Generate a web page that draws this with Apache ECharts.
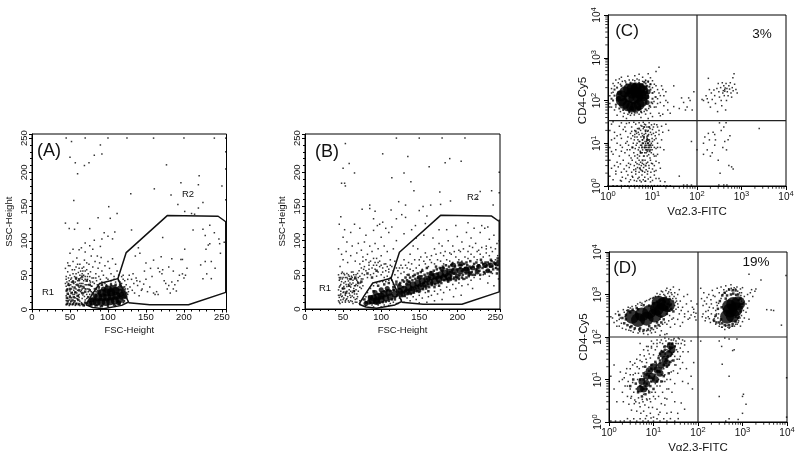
<!DOCTYPE html>
<html><head><meta charset="utf-8"><style>html,body{margin:0;padding:0;background:#fff}#c{width:800px;height:459px}</style>
<script src="https://cdn.jsdelivr.net/npm/echarts@6/dist/echarts.min.js"></script></head><body><div id="c"></div>
<script>
const logMinorTicks=[2,3,4,5,6,7,8,9,20,30,40,50,60,70,80,90,200,300,400,500,600,700,800,900,2000,3000,4000,5000,6000,7000,8000,9000];
const gateR1=[[71,7],[78,20],[89,38],[103,42],[113,45],[120,28],[127,11],[118,6],[94,1],[80,3],[71,7]];
const gateR2=[[113,45],[124,83],[178,137],[245,136],[255,128],[255,25],[206,7],[155,7],[127,10]];
const aDots=[[52,245],[50,222],[57,214],[60,198],[69,210],[75,214],[82,225],[90,240],[92,227],[177,211],[220,195],[196,185],[219,182],[250,180],[161,176],[130,169],[183,167],[192,153],[225,156],[101,150],[55,159],[219,148],[210,140],[201,143],[214,139],[112,140],[87,134],[103,133],[44,126],[49,118],[56,117],[60,126],[76,118],[109,113],[95,112],[131,116],[172,105],[100,107],[92,103],[82,101],[70,97],[76,93],[65,90],[50,82],[54,88],[62,87],[70,84],[80,88],[90,92],[106,103],[225,117],[234,123],[240,112],[212,116],[228,108],[246,103],[253,98],[247,96],[234,96],[229,88],[232,94],[248,82],[201,88],[196,73],[198,73],[184,74],[170,77],[160,72],[140,90],[142,82],[136,78],[150,68],[166,60],[172,58],[186,56],[204,60],[222,65],[228,70],[236,70],[241,60],[230,52],[225,45],[236,45],
[128,50],[131,44],[134,38],[137,46],[139,35],[142,41],[145,30],[147,37],[150,44],[152,26],[155,33],[158,48],[160,24],[162,22],[164,26],[166,22],[168,55],[171,52],[174,42],[176,38],[178,30],[180,35],[182,24],[184,40],[186,30],[188,36],[190,27],[192,42],[194,50],[198,52],[200,46],[202,50],[120,50],[122,42],[124,36],[126,30],[129,33],[132,28],[135,24],[138,42],[141,20],[144,28],[118,48],[116,40],[148,56],[156,60],[180,62],[133,52],[126,44],
[44,60],[45,48],[46,40],[47,55],[48,64],[49,35],[50,50],[51,44],[52,30],[53,58],[54,70],[55,38],[56,48],[57,25],[58,62],[59,75],[60,42],[61,54],[62,32],[63,66],[64,46],[65,28],[66,60],[67,38],[68,50],[69,72],[70,44],[71,30],[72,58],[73,48],[74,36],[75,66],[76,42],[77,55],[78,78],[79,34],[80,62],[81,46],[82,38],[83,70],[84,52],[85,42],[86,78],[87,60],[88,48],[89,68],[90,44],[91,76],[92,56],[94,50],[96,64],[98,46],[100,70],[102,60],[104,52],[106,74],[108,48],[110,66],[112,56],[114,50],[62,60],[64,56],[66,52],[68,62],[70,56],[72,68],[60,66],[58,52],[56,58],[54,52],[52,46],[50,64],[48,46],[46,30],[44,38],[47,68],[65,38],[70,36],[75,30],[78,26],[82,30],[68,24],[72,22],[62,22],[58,36],[54,22],[66,44],[74,52],[80,40],[86,36],[92,40],[96,38],[100,44],[104,42],[108,44],[60,28],[76,22],[70,14],[66,16],[63,12],[59,16],
[126,22],[124,16],[122,33],[127,26],[118,38],[110,40],[104,38],[98,36],[88,34],[84,26],[74,12],[76,6],[83,5],[90,4],[100,4],[110,6],[120,10],[255,250],[255,230],[255,205],[255,160],[255,118],[255,85],[255,60],[255,40],[45,250],[70,250],[100,250],[125,250],[160,250],[200,250],[240,250],
[45,7],[47,9],[49,6],[51,11],[53,7],[55,10],[57,6],[59,9],[61,7],[63,6],[65,10],[67,7],[69,6],[45,13],[47,16],[49,14],[52,17],[54,14],[57,17],[60,15],[62,18],[45,20],[48,22],[50,20],[53,25],[56,22],[59,24],[61,20],[45,27],[47,30],[50,27],[53,33],[55,28],[58,30],[61,34],[45,34],[48,38],[51,36],[54,42],[57,40],[63,38],[67,34],[45,44],[49,42],[52,40],[58,44],[63,50],[67,56],[70,48],[73,44],[76,48],[68,42],[72,36],[78,34],[66,30],[70,30],[74,26],[69,19],[72,16],[64,26],[67,21],[73,30],[77,40],[79,46],[84,46],[62,42],[120,44],[114,42],[117,34],[122,26],[123,30]];
const aFill=[[46,8],[50,8],[54,8],[58,8],[62,8],[66,8],[47,12],[52,13],[56,12],[61,14],[46,17],[50,18],[55,18],[60,20],[47,23],[52,24],[57,25],[46,28],[50,30],[56,32],[62,28],[66,24],[70,26],[48,36],[54,40],[60,36],[64,34],[68,32],[62,44],[66,48],[58,46],[72,42],[76,36],[70,10],[68,6],[74,18],[76,28],[80,24],[84,30],[88,32],[92,36],[98,34],[104,36],[110,36],[116,36],[120,32],[124,24],[124,18],[121,12],[115,8],[108,7],[100,6],[92,5],[85,6],[78,7],[72,9]];
const aMid=[[76,9],[79,14],[83,20],[88,26],[94,30],[115,31],[120,27],[122,20],[114,10]];
const aCores=[[80,12],[85,11],[91,11],[97,11],[103,12],[109,13],[115,15],[119,20],[87,18],[93,18],[99,18],[105,19],[111,20],[116,24],[92,24],[98,25],[104,25],[110,27],[100,29],[107,30]];
const bDots=[[53,242],[58,213],[50,206],[65,199],[48,184],[52,184],[53,180],[102,227],[135,223],[163,208],[184,214],[190,220],[205,216],[130,199],[114,192],[139,186],[143,173],[177,171],[230,172],[245,173],[226,161],[191,158],[247,152],[123,157],[113,145],[132,152],[155,150],[165,152],[178,153],[85,152],[85,147],[92,143],[75,146],[47,135],[45,124],[65,124],[98,124],[90,132],[95,122],[102,127],[106,118],[114,120],[120,132],[127,138],[132,134],[150,144],[160,136],[158,125],[145,122],[140,116],[130,110],[120,100],[110,112],[100,105],[90,115],[80,108],[72,118],[60,112],[52,116],[50,105],[44,88],[48,80],[55,98],[62,92],[70,96],[74,86],[78,98],[85,92],[88,84],[92,96],[96,88],[100,78],[104,92],[108,84],[112,72],[116,88],[82,80],[76,76],[68,82],[60,78],[56,68],[50,72],[46,62],[54,84],[66,70],[72,66],[78,62],[84,68],[90,74],[94,64],[98,70],[102,60],[106,66],[110,58],[114,62],[118,70],[122,56],[126,64],[130,72],[134,60],[138,80],[142,92],[148,88],[152,76],[158,82],[164,72],[170,88],[176,96],[182,78],[188,100],[194,92],[200,106],[206,98],[212,112],[218,104],[224,96],[230,112],[236,118],[242,102],[248,108],[252,96],[238,92],[228,86],[216,92],[204,84],[192,80],[180,92],[168,104],[156,108],[146,104],[176,116],[186,116],[198,122],[214,126],[222,118],[232,122],[240,120],
[44,50],[45,42],[46,34],[47,26],[48,18],[44,12],[46,8],[49,54],[50,46],[51,38],[52,30],[53,22],[54,14],[55,52],[56,44],[57,36],[58,28],[59,20],[60,12],[61,54],[62,46],[63,38],[64,30],[65,22],[66,14],[67,50],[68,42],[69,34],[70,26],[71,56],[72,48],[73,38],[74,30],[75,52],[76,44],[77,58],[78,50],[80,56],[82,46],[84,58],[86,50],[88,60],[90,52],[92,58],[94,48],[96,54],[98,62],[100,50],[102,54],[104,46],[106,56],[108,48],[110,54],[112,46],[44,28],[46,20],[48,40],[50,24],[52,50],[54,36],[56,18],[58,48],[60,32],[62,24],[64,50],[66,34],[68,22],[70,46],[72,32],[74,44],[76,34],[46,44],[48,52],[44,20],[50,14],[53,10],[57,12],[63,8],[68,10],[118,50],[122,46],[126,52],[130,54],[134,50],[138,58],[142,56],[146,60],[150,64],[154,58],[158,66],[162,62],[166,68],[170,66],[174,72],[178,70],[182,66],[186,72],[190,70],[194,68],[198,76],[202,72],[206,70],[210,76],[214,74],[218,80],[222,76],[226,72],[230,80],[234,76],[238,82],[242,78],[246,84],[250,72],[253,78],[253,64],[250,60],[246,52],[242,48],[238,56],[234,50],[230,44],[226,54],[222,46],[218,42],[214,36],[210,44],[206,34],[202,38],[198,30],[194,36],[190,28],[186,32],[182,24],[178,28],[174,22],[170,26],[166,20],[162,18],[158,24],[154,16],[150,20],[146,14],[142,18],[138,12],[134,16],[130,10],[126,14],[122,8],[240,38],[248,34],[254,44],[220,30],[205,20],[195,18],[180,14],[170,12],[160,10],[150,9],[120,18],[116,10],[110,5],[100,3],[90,3],[80,5],[72,8],[255,200],[255,170],[255,130],[255,100],[120,250],[150,250],[180,250],[210,250],
[45,10],[47,13],[49,10],[51,16],[53,12],[55,15],[58,10],[60,17],[62,11],[64,17],[66,10],[68,15],[45,17],[47,22],[49,19],[51,25],[53,20],[55,26],[58,23],[60,26],[62,19],[65,26],[67,28],[69,18],[45,32],[47,36],[49,30],[51,33],[53,40],[55,33],[57,41],[59,38],[61,36],[63,42],[65,34],[67,36],[69,40],[45,46],[47,46],[49,44],[51,52],[53,46],[55,46],[57,50],[59,44],[61,48],[63,54],[65,44],[67,44],[69,52],[74,60],[76,70],[80,72],[84,64],[86,70],[90,64],[92,68],[94,74],[96,68],[100,64],[104,66],[108,62],[112,64],[116,56],[120,60],[124,60],[128,60],[132,64],[136,68],[140,66],[144,72],[150,72],[156,70],[160,76],[166,78],[172,80],[178,82],[184,84],[190,82],[196,84],[202,86],[208,88],[214,84],[220,90],[226,84],[232,90],[238,88],[244,90],[250,88],[72,12],[76,14],[80,18],[82,24],[86,30],[90,34],[94,38],[98,40],[102,40],[106,40],[110,42],[114,42],[116,36],[118,32],[120,26],[122,22],[124,16],[120,8],[112,8],[104,6],[96,6],[88,6],[80,8]];
const bFill=[[50,30],[58,34],[64,26],[70,38],[60,44],[54,24],[66,46],[74,40],[82,52],[88,46],[94,56],[120,40],[124,36],[128,42],[116,32],[132,46],[136,50],[140,32],[144,50],[148,34],[152,54],[156,38],[160,60],[166,38],[172,62],[176,40],[182,60],[186,44],[192,64],[196,46],[202,64],[206,46],[212,68],[216,52],[222,66],[226,58],[232,68],[236,62],[242,66],[246,62],[250,66],[253,70],[253,58],[244,72],[218,60],[208,58],[84,18],[78,14],[90,26],[96,34],[104,36],[110,38],
[118,17],[121,20],[124,29],[127,20],[129,32],[131,19],[133,36],[135,23],[137,40],[139,22],[141,42],[143,24],[145,44],[147,26],[149,46],[151,27],[153,48],[155,29],[157,50],[159,30],[161,52],[163,32],[165,54],[167,35],[169,56],[171,36],[173,58],[175,38],[177,60],[179,38],[181,62],[183,42],[185,64],[187,42],[189,62],[191,44],[193,66],[195,44],[197,62],[199,46],[201,68],[203,50],[205,64],[207,50],[209,66],[211,52],[213,64],[215,48],[217,70],[219,54],[221,62],[223,50],[225,68],[227,62],[229,56],[231,72],[233,60],[235,54],[237,68],[239,64],[241,56],[243,62],[245,70],[247,58],[249,66],[251,60],[253,74],
[117,28],[120,36],[122,25],[125,38],[128,24],[130,40],[132,26],[134,42],[136,27],[138,46],[140,28],[142,48],[146,30],[148,52],[150,25],[152,34],[154,56],[158,34],[160,44],[162,26],[164,46],[168,50],[170,32],[172,46],[174,52],[176,34],[178,46],[180,56],[184,48],[186,58],[188,40],[190,54],[192,48],[194,58],[196,52],[198,42],[200,58],[202,44],[204,60],[206,56],[208,44],[210,60],[212,46],[214,58],[216,62],[220,50],[224,58],[228,64],[230,50],[234,66],[236,52],[238,62],[240,68],[244,54],[248,68],[252,52],
[86,9],[90,9],[94,9],[98,9],[102,10],[106,11],[110,12],[114,14],[118,14],[88,18],[92,20],[96,22],[100,24],[104,26],[108,27],[112,26],[116,28],[80,10],[84,14]];
const bMid=[[212,58],[220,60],[228,62],[236,64],[244,64],[252,66],[216,52],[226,54],[240,56],[84,10],[80,8],[86,17],[92,24],[100,28],[108,30],[200,48],[190,44],[205,66],[195,64],[180,58],[166,52],[150,46],[136,38],[124,33]];
const bCores=[[88,12],[94,13],[100,14],[106,16],[112,18],[100,19],[118,22],[124,26],[130,29],[136,31],[142,35],[148,38],[154,41],[160,44],[166,47],[172,48],[178,50],[184,52],[190,54],[196,55],[127,22],[134,25],[140,27],[146,30],[152,33],[158,36],[164,39],[170,41],[176,44],[182,46],[188,48],[204,56],[212,57],[90,16],[96,18],[104,22],[110,24],[94,11]];
const cDots=[[1.1,85],[1.2,190],[1.3,250],[1.4,60],[1.5,300],[1.6,45],[1.1,130],[1.2,150],[1.8,320],[2,350],[2.4,290],[2.8,370],[3.2,45],[3.6,300],[4,380],[4.5,320],[5,410],[5.5,40],[6,350],[7,290],[8,420],[9,340],[10,290],[11,240],[12,480],[13,180],[14,600],[15,90],[16,220],[18,75],[20,160],[22,60],[12,120],[13,85],[14,50],[11,70],[10,42],[9,50],[2.2,42],[2.6,38],[3,52],[7,48],[8,38],[15,44],[17,48],[18,130],[20,100],[25,50],[22,90],[30,72],[40,65],[50,90],[60,70],[70,100],[45,115],[55,60],[65,115],[85,160],[78,60],[30,220],
[130,105],[140,100],[160,130],[170,110],[180,90],[190,180],[200,70],[210,150],[220,105],[240,175],[250,130],[260,85],[280,190],[290,55],[300,250],[310,160],[320,120],[340,200],[350,100],[360,75],[370,260],[380,150],[400,220],[410,130],[420,180],[440,60],[450,250],[460,100],[480,160],[500,130],[520,220],[540,185],[560,260],[580,150],[600,120],[620,200],[640,340],[650,170],[680,420],[700,240],[750,180],[800,150],[420,165],[430,195],[390,170],[470,190],[180,330],
[3,30],[1.2,28],[1.8,25],[2.4,24],[3.4,24],[4.2,28],[5,30],[5.8,25],[6.6,28],[7.5,24],[8.4,30],[9.5,27],[11,28],[13,24],[16,25],[20,28],[1.1,20],[1.4,18],[1.9,16],[2.5,19],[3.2,17],[4,20],[4.8,18],[5.4,20],[6.2,22],[7,17],[8,20],[9,18],[10,21],[12,18],[14,16],[17,18],[23,20],[1.2,12],[1.6,10],[2,13],[2.7,11],[3.3,13],[3.9,12],[4.5,14],[5.2,11],[6,15],[6.8,11],[7.6,13],[8.6,11],[9.8,13],[11,12],[13,10],[16,12],[1.1,8],[1.5,7],[2.1,8],[2.9,9],[3.6,8],[4.3,9],[5,8],[5.7,9],[6.5,8],[7.2,9],[8,8],[9,7],[10,9],[12,7.5],[15,8],[18,7],[1.3,5.5],[1.8,5],[2.4,6],[3,5.2],[3.8,6],[4.6,5.4],[5.5,6],[6.3,5],[7.2,6],[8.2,5.4],[9.4,6],[11,5],[13,5.5],[1.1,4],[1.6,3.6],[2.2,4],[2.9,3.4],[3.5,4],[4.2,3.6],[5,4],[5.9,3.4],[6.8,4],[7.8,3.6],[9,4],[10,3.3],[12,3.8],[14,3.5],[1.2,2.6],[1.7,2.8],[2.3,2.5],[3,2.7],[3.8,2.4],[4.6,2.7],[5.4,2.4],[6.3,2.7],[7.2,2.4],[8.4,2.6],[10,2.5],[12,2.3],[15,2.6],[1.1,1.7],[1.5,1.9],[2.1,1.6],[2.8,1.8],[3.5,1.7],[4.2,1.9],[5,1.6],[5.8,1.8],[6.7,1.6],[7.7,1.9],[9,1.6],[11,1.8],[14,1.5],[1,1.02],[1.3,1.02],[1.6,1.02],[2,1.02],[2.4,1.02],[2.8,1.02],[3.3,1.02],[3.9,1.02],[4.5,1.02],[5.2,1.02],[6,1.02],[7,1.02],[8,1.02],[9.5,1.02],[11,1.02],[13,1.02],[15,1.02],[18,1.02],[21,1.02],[25,1.02],[3,1.25],[4.4,1.3],[5.6,1.25],[7,1.3],[9,1.25],[2,1.3],
[5.5,14],[6,12],[6.5,16],[7,10],[7.5,14],[8,9],[8.5,12],[5,11],[4.5,10],[4,16],[3.6,15],[4.8,7],[5.3,6.5],[6,7],[6.5,5],[7,7],[7.6,6.4],[8.3,7],[4.6,4.5],[5,3.2],[5.6,3],[6,2.2],[4.2,2.2],[3.6,1.6],[75,11],[100,7],[40,1.7],[75,1.05],[60,1.05],[50,1.05],
[140,10],[150,14],[170,7],[180,17],[190,12],[200,5],[220,6],[230,18],[250,9],[260,12],[300,4],[320,30],[330,2],[350,20],[380,8],[400,24],[420,11],[460,7],[500,12],[520,3],[550,15],[600,2.8],[650,2.5],[310,1.05],[400,1.05],[470,1.05],[2500,22],[140,5.5],[250,16],[450,30],
[1.3,32],[2,30],[2.6,29],[3.8,31],[4.6,22],[5.5,26],[6.2,31],[7,27],[7.8,19],[8.8,22],[9.5,16],[10.5,24],[11.5,15],[12.5,27],[1.6,15],[2.2,21],[2.8,14],[3.4,19],[4,14],[4.4,17],[5,16],[5.8,17],[6.4,13],[7,19],[7.4,11],[8.2,16],[9.4,10],[10.5,17],[12,13],[14,20],[1.4,13],[1.9,9],[2.5,10],[3.1,7],[3.7,10],[4.1,7.5],[4.7,12],[5.4,9],[5.9,12],[6.2,10],[6.8,9],[7.3,8],[7.8,10],[8.6,9],[9.4,8],[10,11],[11,8],[13,8],[1.2,6.4],[2,6.5],[2.7,7],[3.3,4.5],[4,5],[5.1,5],[5.9,6],[6.7,6],[7.6,5],[8.8,4.5],[9.8,7],[10.5,5.5],[12,5],[1.4,3],[1.9,3.3],[2.6,3],[3.2,3.2],[3.9,3],[4.5,3.3],[5.4,3.6],[6.3,3.2],[7.3,3.4],[8.3,3],[9.5,3.4],[11,3],[1.5,2.2],[2,2.1],[2.6,2.2],[3.4,2.1],[4.2,2.5],[5,2.1],[5.8,2.3],[6.7,2.1],[7.8,2.2],[9.2,2.1],[11,2.2],[1.3,1.4],[1.9,1.35],[2.5,1.5],[3.2,1.4],[3.9,1.35],[4.7,1.5],[5.2,1.35],[6.2,1.4],[6.8,1.3],[8,1.45],[10,1.35],[12,1.5],[15,1.3],[19,1.25],
[1.5,70],[1.7,95],[1.9,55],[1.2,70],[1.3,155],[1.4,220],[1.7,260],[2.1,280],[2.3,50],[2.8,48],[3.4,50],[3.9,46],[4.5,52],[5,48],[5.7,52],[6.5,55],[7.5,58],[8.2,65],[9,70],[10,85],[10.8,95],[11.5,120],[11,160],[10,200],[9,240],[8,270],[7,300],[6,280],[5,300],[4,290],[3,300],[2.5,270],[1.9,240],[12,70],[13,110],[14,150],[15,130],[17,180],[12,220],[1.1,70]];
const cFill=[[1.3,100],[1.4,130],[1.5,80],[1.2,110],[1.4,180],[1.6,200],[2,220],[2.6,240],[3.2,260],[4,250],[5,260],[6,240],[7,250],[8.5,210],[9,180],[10,150],[10,110],[9.5,90],[8.6,75],[7,62],[5.5,55],[4,52],[3,55],[2.2,60],[1.8,65],[8,10],[8.6,6.5],[7.8,15],[8.4,24],[6.5,24],[5.2,2.6],[6,4],[7,3],[5,22],[3.5,8],[4.2,19],[9,240],[8,280],[7.5,220],[6.5,270],[8.5,8],[9,9],[7.5,7],[8,12],[6,10],[6.8,8],[5.4,6],[5.8,8],[6.4,14],[7,20],[7.5,12]];
const cMid=[[7.5,120],[8,160],[7.6,90],[1.7,110],[1.8,150],[3.4,65],[5,66],[4,220],[5.5,220],[6.8,200]];
const cCores=[[2,100],[2,130],[2.3,85],[2.4,160],[2.8,75],[2.9,185],[3.4,70],[3.5,195],[4.2,72],[4.3,195],[5,80],[5.2,190],[5.8,95],[6,170],[6.3,130],[3,120],[3.8,110],[4.6,120],[3.4,150],[4.3,155],[5.4,140]];
const dDots=[[1.1,300],[1.2,280],[1.3,220],[1.4,350],[1.5,240],[1.6,400],[1.7,180],[1.8,280],[2,160],[2.2,380],[2.5,420],[2.8,145],[3,480],[3.5,130],[4,540],[4.5,125],[5,650],[5.5,620],[6,120],[7,720],[7.5,115],[8.5,800],[9,125],[10,850],[11,130],[12,160],[13,900],[14,1000],[15,140],[16,1150],[18,950],[20,1400],[22,1150],[24,1300],[26,1000],[28,1500],[30,1100],[32,800],[35,1000],[38,1300],[25,600],[28,700],[30,550],[32,450],[35,600],[38,350],[40,700],[45,500],[48,900],[50,300],[55,600],[58,1000],[60,400],[65,280],[70,700],[75,500],[80,380],[85,300],[90,250],[20,200],[22,240],[24,170],[28,280],[30,200],[35,260],[40,180],[45,220],[50,350],[60,260],[70,330],[80,450],[90,360],[95,600],
[115,1400],[120,800],[125,300],[130,550],[135,1100],[140,700],[145,240],[150,400],[155,600],[160,850],[170,300],[175,1000],[180,500],[190,220],[195,750],[200,350],[210,1250],[220,480],[230,270],[240,900],[250,200],[260,650],[270,1400],[290,350],[300,1100],[310,200],[330,1500],[350,170],[380,1300],[400,150],[420,1600],[450,190],[500,160],[550,1700],[600,180],[650,1450],[700,200],[750,1500],[800,220],[850,300],[900,1350],[950,1100],[1000,1450],[1100,900],[1200,600],[1300,1000],[1400,700],[1500,1100],[1600,1300],[1700,900],[1900,1200],[2000,1350],[1100,280],[1200,380],[1300,480],[1400,260],[1000,230],[900,180],[2600,2200],[3500,440],[4400,430],[5000,420],[7500,190],[9500,2800],[1400,3000],[9800,11],
[115,80],[300,80],[340,60],[400,95],[500,90],[600,48],[350,23],[500,12],[750,90],[650,50],[1000,1.6],[300,4],[1000,4],[1200,2.6],[1050,4.5],[800,1.15],[9800,1.3],[1.3,22],[3,26],[5,70],[7,60],[9,80],[12,70],[15,85],[18,95],[20,60],[24,50],[28,85],[32,70],[36,95],[40,55],[45,85],[50,65],[60,45],[70,80],[80,25],[45,25],[55,18],[70,12],[75,6],[60,8],[45,9],[40,18],[38,30],[35,45],[30,35],[26,28],[32,22],[28,16],[24,10],[35,14],[22,6],[30,8],[26,5],[20,3.5],[30,3],[42,2.8],[50,2],[18,2.5],[14,1.7],[25,1.7],[35,1.6],
[1.1,12],[1.3,6],[1.5,3],[1.7,9],[1.8,15],[2,5],[2.1,3],[2.2,11],[2.3,7],[2.5,18],[2.6,4],[2.7,9],[2.8,2.6],[3,13],[3,6],[3.1,3.6],[3.2,1.9],[3.4,22],[3.4,8.5],[3.6,5],[3.7,2.7],[3.9,14],[4,3],[4.2,30],[4.2,1.8],[4.4,10],[4.6,3.7],[4.8,18],[5,2.3],[5,38],[5.2,1.6],[5.5,26],[5.8,3],[6,50],[6,1.8],[6.4,2.5],[6.8,30],[7,1.4],[7.2,3.3],[7.6,60],[7.8,2.2],[8,40],[8.5,1.6],[8.6,3],[9,55],[9.5,2.2],[10,70],[10,1.3],[11,3.5],[11,5],[12,2],[12,85],[13,4],[13,1.5],[14,7],[15,2.7],[16,5],[16,70],[18,3.6],[18,9],[20,6],[20,1.6],[1.1,1.05],[1.4,1.05],[1.8,1.05],[2.2,1.05],[2.6,1.2],[3,1.05],[3.6,1.2],[4.2,1.05],[5,1.2],[5.8,1.05],[6.6,1.2],[7.6,1.05],[8.8,1.25],[10,1.05],[12,1.2],[14,1.05],[17,1.2],[20,1.05],[24,1.2],[30,1.05],[36,1.2],[420,1.05],[500,1.2],
[1.5,180],[1.7,260],[1.9,210],[2.1,440],[2.3,300],[2.4,150],[2.7,500],[3.1,140],[3.3,520],[3.7,150],[4.4,600],[4.9,135],[5.3,560],[5.8,135],[6.5,680],[7,140],[8,750],[8.5,140],[9.5,820],[10,150],[11,900],[12,1050],[14,180],[15,1200],[16,200],[17,1000],[19,1250],[21,1050],[23,900],[25,1100],[27,800],[29,900],[31,650],[33,700],[36,500],[42,420],[14,260],[18,220],[23,320],[26,260],[20,120],[18,115],[14,110],
[220,250],[240,300],[250,420],[260,350],[270,550],[280,280],[290,620],[300,180],[320,240],[330,800],[340,170],[360,1000],[370,450],[390,1100],[420,180],[440,1200],[470,170],[490,1350],[520,170],[560,1400],[580,180],[620,1300],[660,180],[700,1350],[760,200],[780,1200],[820,240],[860,1100],[920,950],[950,700],[980,520],[1050,650],[1050,420],[950,320],[880,280],[170,420],[150,280],[130,350],[180,270],[200,600],[220,950],
[2,10],[2.4,14],[2.6,7],[3,18],[3.2,4],[3.5,13],[3.8,3.3],[3.8,24],[4.1,6],[4.3,20],[4.6,14],[4.8,2.8],[5,28],[5.2,7],[5.4,12],[5.6,3.4],[5.8,20],[6,4.5],[6.2,36],[6.5,15],[6.7,7],[7,3.5],[7,25],[7.3,10],[7.5,48],[7.8,5.5],[8,20],[8.2,3.5],[8.5,32],[8.8,9],[9,60],[9.2,5],[9.5,16],[10,38],[10,4],[10.5,12],[11,50],[11,8],[11.5,24],[12,7],[12,60],[12.5,16],[13,36],[13,10],[14,74],[14,24],[15,48],[15,13],[16,32],[16,9],[17,58],[17,18],[18,40],[18,13],[19,80],[19,24],[20,50],[20,10],[21,36],[22,90],[22,22],[23,60],[24,36],[25,85],[25,15],[26,55],[27,72],[28,44],[29,92],[30,60],[30,22],[32,80],[33,50],[34,30],[36,70],[38,90],[40,35],[42,70],[46,45],[50,80]];
const dFill=[[1.7,330],[2,280],[2.2,210],[2.4,330],[2.7,420],[2.6,190],[3.2,180],[3.4,440],[3.8,160],[4.2,480],[4.8,150],[6,145],[7.5,150],[9,160],[11,180],[13,190],[15,220],[17,800],[19,850],[21,600],[23,780],[25,460],[20,350],[17,260],[19,460],[28,400],[250,320],[260,220],[280,460],[230,240],[310,700],[350,950],[400,1100],[500,1300],[600,1250],[700,1250],[800,1000],[900,800],[1000,600],[900,400],[800,280],[700,230],[600,200],[500,190],[400,190],[300,220],[7,8],[9,11],[6,6],[5,10],[4,8],[5.5,4],[6.6,4.5],[8,5],[10,6],[12,9],[11,26],[9,22],[8,16],[7,13],[6.5,20],[13,32],[16,45],[18,60],[22,70],[26,40],[30,60],[24,26],[20,20],[28,28],[17,12],[22,14],[15,9],[4.5,5],[3.5,10],[3,7],
[8,550],[10,620],[12,680],[14,720],[16,750],[18,680],[6,560],[4.5,450],[3,380],[2.4,260],[3,170],[5,160],[8,180],[12,220],[15,300],[20,500],[24,560],[22,420],[330,260],[350,210],[340,500],[420,800],[450,950],[550,1000],[620,1050],[720,980],[820,750],[850,520],[700,300],[900,600],[11,13],[12,16],[9,9],[10,10],[14,15],[15,18],[17,22],[19,30],[21,34],[14,28],[12,22],[9,18],[8,12],[6,10],[5,7],[7,6],[8.5,7],[6,14],[22,46],[24,55],[18,50],[14,40],[26,68]];
const dMid=[[18,30],[15,22],[12,17],[22,40],[9,12],[7,8],[6,6],[14,14],[10,20],[20,24],[26,50],[8,16],[5.5,9],[24,62],[16,40],[11,10],[7,12],[5,6]];
const dCores=[[3.3,300],[4.5,250],[5.5,340],[7,270],[8,390],[10.5,320],[12,470],[15,420],[17,600],[13,640],[21,560],[450,300],[600,320],[520,420],[700,450],[620,600],[800,620],[500,520]];
const panels=[{dots:aDots,fill:aFill,mid:aMid,cores:aCores,core:8,fs:2.5},{dots:bDots,fill:bFill,mid:bMid,cores:bCores,core:7,fs:2.5},{dots:cDots,fill:cFill,mid:cMid,cores:cCores,core:11,fs:2},{dots:dDots,fill:dFill,mid:dMid,cores:dCores,core:14,fs:2.5}];
const grids=[{left:32,top:134,width:194.5,height:175.5},{left:305,top:134,width:195,height:175},{left:608,top:15,width:178,height:171},{left:609,top:252,width:178,height:170}];
const lin={color:'#111',fontSize:9.5,fontFamily:'Liberation Sans'};
function logFmt(v){return '{b|10}{s|'+Math.round(Math.log10(v))+'}';}
const rich={b:{fontSize:10,fontFamily:'Liberation Sans',color:'#111'},s:{fontSize:7.5,fontFamily:'Liberation Sans',color:'#111',padding:[0,0,6,0]}};
const xAxis=[],yAxis=[];
const lineC={lineStyle:{color:'#000',width:1}};
grids.forEach((g,i)=>{
 const linear=i<2;
 const nm=linear?{fontSize:9.5,color:'#111',fontFamily:'Liberation Sans'}:{fontSize:11.5,color:'#111',fontFamily:'Liberation Sans'};
 const common=(name,isY)=>linear?{type:'value',min:0,max:256,interval:50,name,nameLocation:'middle',nameGap:isY?18:16,nameTextStyle:nm,
   axisLine:{show:true,...lineC},axisTick:{show:true,length:3,...lineC},minorTick:{show:true,splitNumber:5,length:2,...lineC},splitLine:{show:false},minorSplitLine:{show:false},
   axisLabel:{...lin,margin:3,rotate:isY?90:0,showMaxLabel:false}}
  :{type:'log',logBase:10,min:1,max:10000,name,nameLocation:'middle',nameGap:isY?18:20,nameTextStyle:nm,
   axisLine:{show:true,...lineC},axisTick:{show:true,length:4,...lineC},splitLine:{show:false},
   axisLabel:{margin:4,rotate:isY?90:0,formatter:logFmt,rich}};
 xAxis.push({...common(linear?'FSC-Height':'Vα2.3-FITC',false),gridIndex:i});
 yAxis.push({...common(linear?'SSC-Height':'CD4-Cy5',true),gridIndex:i});
});
const series=[];
panels.forEach((p,i)=>{
 const sc=(data,size,sym)=>series.push({type:'scatter',xAxisIndex:i,yAxisIndex:i,data,symbol:sym,symbolSize:size,itemStyle:{color:'#000'},silent:true,animation:false});
 sc(p.dots,1.5,'rect');sc(p.fill,p.fs,'rect');sc(p.mid,i===3?7:5,'circle');sc(p.cores,p.core,'circle');
 if(i<2){
  [gateR1,gateR2].forEach(d=>series.push({type:'line',xAxisIndex:i,yAxisIndex:i,data:d,showSymbol:false,lineStyle:{color:'#111',width:1.5},animation:false,silent:true}));
 }else{
  const h=i===2?34:100;
  series.push({type:'line',xAxisIndex:i,yAxisIndex:i,data:[[100,1],[100,10000]],showSymbol:false,lineStyle:{color:'#222',width:1.2},animation:false,silent:true});
  series.push({type:'line',xAxisIndex:i,yAxisIndex:i,data:[[1,h],[10000,h]],showSymbol:false,lineStyle:{color:'#222',width:1.2},animation:false,silent:true});
  series.push({type:'scatter',xAxisIndex:i,yAxisIndex:i,clip:false,data:logMinorTicks.map(v=>[v,1]),symbol:'rect',symbolSize:[1,2.5],symbolOffset:[0,1.5],itemStyle:{color:'#000'},silent:true,animation:false});
  series.push({type:'scatter',xAxisIndex:i,yAxisIndex:i,clip:false,data:logMinorTicks.map(v=>[1,v]),symbol:'rect',symbolSize:[2.5,1],symbolOffset:[-1.5,0],itemStyle:{color:'#000'},silent:true,animation:false});
 }
});
const t=(x,y,text,size)=>({type:'text',x,y,style:{text,fontSize:size,fontFamily:'Liberation Sans',fill:'#111',align:'center',verticalAlign:'middle'}});
const graphic=[t(49,151,'(A)',18),t(327,152,'(B)',18),t(627,31,'(C)',17),t(625,268,'(D)',17),t(48,292,'R1',9.5),t(188,194,'R2',9.5),t(325,288,'R1',9.5),t(473,197,'R2',9.5),t(762,34,'3%',13.5),t(756,262,'19%',13.5)];
echarts.init(document.getElementById('c'),null,{renderer:'canvas'}).setOption({animation:false,backgroundColor:'#fff',grid:grids.map(g=>({...g,show:true,borderColor:'#000',borderWidth:1,backgroundColor:'#fff'})),xAxis,yAxis,series,graphic});
</script></body></html>
